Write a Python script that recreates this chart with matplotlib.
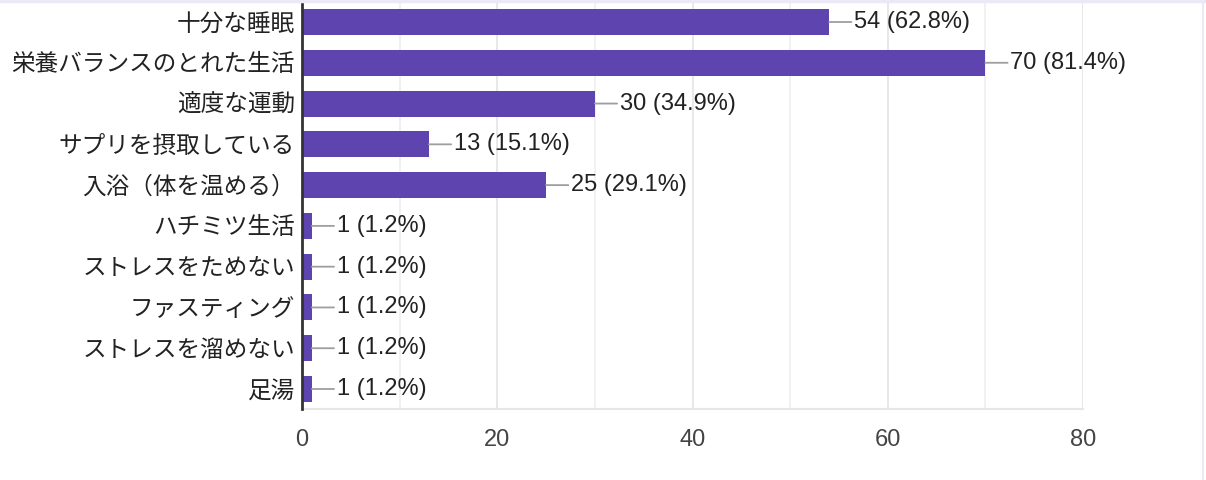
import matplotlib
matplotlib.use('Agg')
import matplotlib.pyplot as plt
from matplotlib.lines import Line2D
import numpy as np

plt.rcParams['font.family'] = ['Liberation Sans', 'Noto Sans CJK JP', 'DejaVu Sans']

categories = ['十分な睡眠', '栄養バランスのとれた生活', '適度な運動', 'サプリを摂取している',
              '入浴（体を温める）', 'ハチミツ生活', 'ストレスをためない', 'ファスティング',
              'ストレスを溜めない', '足湯']
counts = [54, 70, 30, 13, 25, 1, 1, 1, 1, 1]
percents = [62.8, 81.4, 34.9, 15.1, 29.1, 1.2, 1.2, 1.2, 1.2, 1.2]
xticks = [0, 20, 40, 60, 80]

barColor = '#5e44ae'
textColor = '#222222'

fig = plt.figure(figsize=(12.06, 4.8), dpi=100)
ax = fig.add_axes([302 / 1206, 1 - 409.4 / 480, (1083 - 302) / 1206, (409.4 - 1.6) / 480])

y = np.arange(len(categories))
ax.barh(y, counts, height=0.64, color=barColor, zorder=3)

for i, (c, p) in enumerate(zip(counts, percents)):
    ax.annotate(f'{c} ({p}%)', xy=(c, i), xytext=(18, 0), textcoords='offset points',
                ha='left', va='center', fontsize=17, color=textColor, zorder=4,
                arrowprops=dict(arrowstyle='-', color='#9e9e9e', lw=1.3, shrinkA=0, shrinkB=0))

ax.set_xlim(0, 80)
ax.set_ylim(len(categories) - 0.5, -0.5)
ax.set_xticks(xticks)
ax.set_xticks([10, 30, 50, 70], minor=True)
ax.set_yticks(y)
ax.set_yticklabels(categories)

ax.tick_params(axis='x', which='both', length=0, pad=14, labelsize=17, labelcolor='#444444')
ax.tick_params(axis='y', length=0, pad=5, labelsize=17, labelcolor=textColor)

ax.grid(axis='x', which='major', color='#e6e6e6', lw=1.3, zorder=0)
ax.grid(axis='x', which='minor', color='#f0f0f0', lw=1.3, zorder=0)

for s in ['top', 'right']:
    ax.spines[s].set_visible(False)
ax.spines['bottom'].set_color('#e6e6e6')
ax.spines['bottom'].set_linewidth(1.5)
ax.spines['left'].set_color('#333333')
ax.spines['left'].set_linewidth(2)
ax.spines['left'].set_zorder(5)

# faint frame from the screenshot
fig.add_artist(Line2D([0, 1], [0.998, 0.998], transform=fig.transFigure, color='#ebe9f5', lw=2.5))
fig.add_artist(Line2D([1203 / 1206, 1203 / 1206], [0, 1], transform=fig.transFigure, color='#ebe9f5', lw=1.5))

fig.savefig('out.png', dpi=100)
